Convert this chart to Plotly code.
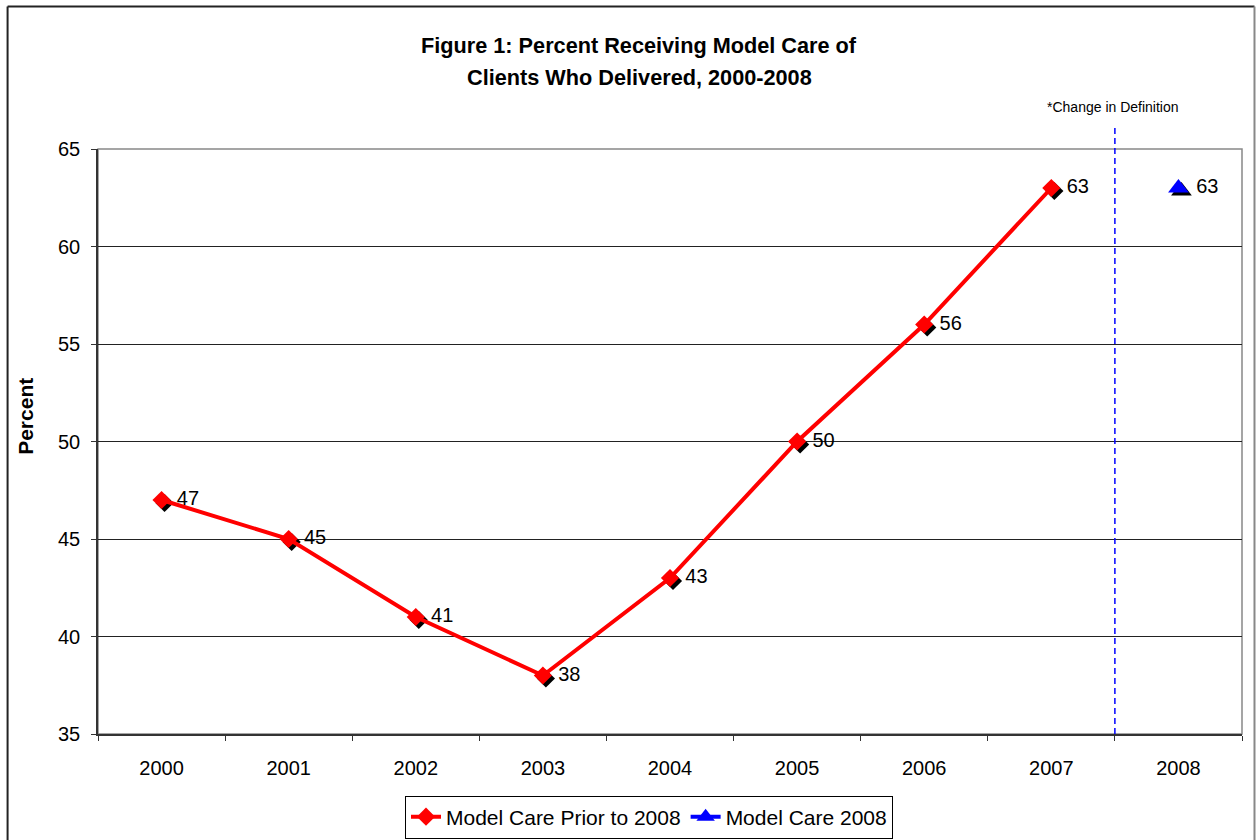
import plotly.graph_objects as go

# Chart data
years = ["2000", "2001", "2002", "2003", "2004", "2005", "2006", "2007", "2008"]
prior_years = ["2000", "2001", "2002", "2003", "2004", "2005", "2006", "2007"]
prior_values = [47, 45, 41, 38, 43, 50, 56, 63]
new_years = ["2008"]
new_values = [63]
y_ticks = [35, 40, 45, 50, 55, 60, 65]

# Figure geometry (pixels)
W, H = 1256, 840
L, R, T, B = 97.5, 1242.5, 148.5, 734.0
PW, PH = R - L, B - T
Y_MIN, Y_MAX = 35, 65


def px_x(px):
    return (px - L) / PW


def px_y(py):
    return (B - py) / PH


pos = {yr: i for i, yr in enumerate(years)}
prior_x = [pos[yr] for yr in prior_years]
new_x = [pos[yr] for yr in new_years]

# Drop shadow offset, converted from pixels to data units
SX = 3 * (len(years)) / PW
SY = -3 * (Y_MAX - Y_MIN) / PH

FONT = "Liberation Sans, Arial, sans-serif"
NB = "\u00a0"

fig = go.Figure()

# Marker shadows
fig.add_trace(go.Scatter(
    x=[v + SX for v in prior_x], y=[v + SY for v in prior_values],
    mode="markers", marker=dict(symbol="diamond", size=14, color="black"),
    showlegend=False, hoverinfo="skip"))
fig.add_trace(go.Scatter(
    x=[v + SX for v in new_x], y=[v + SY for v in new_values],
    mode="markers", marker=dict(symbol="triangle-up", size=18, color="black"),
    showlegend=False, hoverinfo="skip"))

# Main series
fig.add_trace(go.Scatter(
    x=prior_x, y=prior_values, name="Model Care Prior to 2008",
    mode="lines+markers+text",
    line=dict(color="#FF0000", width=4),
    marker=dict(symbol="diamond", size=14, color="#FF0000"),
    text=[NB + str(v) for v in prior_values], textposition="middle right",
    textfont=dict(family=FONT, size=20, color="black")))
fig.add_trace(go.Scatter(
    x=new_x, y=new_values, name="Model Care 2008",
    mode="lines+markers+text",
    line=dict(color="#0000FF", width=4),
    marker=dict(symbol="triangle-up", size=18, color="#0000FF"),
    text=[NB + str(v) for v in new_values], textposition="middle right",
    textfont=dict(family=FONT, size=20, color="black")))

shapes = [
    # plot area frame
    dict(type="rect", xref="paper", yref="paper", x0=0, x1=1, y0=0, y1=1,
         line=dict(color="#888888", width=1.5), layer="below"),
    # definition change marker
    dict(type="line", xref="x", yref="paper", x0=7.5, x1=7.5, y0=0, y1=px_y(126),
         line=dict(color="#0000FF", width=1.5, dash="6px,4px")),
    # outer chart border
    dict(type="line", xref="paper", yref="paper", x0=px_x(7), x1=px_x(7),
         y0=px_y(H + 5), y1=px_y(6), line=dict(color="#222222", width=2)),
    dict(type="line", xref="paper", yref="paper", x0=px_x(7), x1=px_x(1255),
         y0=px_y(6), y1=px_y(6), line=dict(color="#222222", width=2)),
    dict(type="line", xref="paper", yref="paper", x0=px_x(1255), x1=px_x(1255),
         y0=px_y(6), y1=px_y(H + 5), line=dict(color="#888888", width=2)),
]

annotations = [
    dict(text="<b>Figure 1: Percent Receiving Model Care of</b>", x=px_x(639), y=px_y(45),
         xref="paper", yref="paper", showarrow=False, xanchor="center", yanchor="middle",
         font=dict(family=FONT, size=21.7, color="black")),
    dict(text="<b>Clients Who Delivered, 2000-2008</b>", x=px_x(639), y=px_y(77),
         xref="paper", yref="paper", showarrow=False, xanchor="center", yanchor="middle",
         font=dict(family=FONT, size=21.7, color="black")),
    dict(text="<b>Percent</b>", x=px_x(25), y=px_y(416), textangle=-90,
         xref="paper", yref="paper", showarrow=False, xanchor="center", yanchor="middle",
         font=dict(family=FONT, size=21, color="black")),
    dict(text="*Change in Definition", x=px_x(1113), y=px_y(106),
         xref="paper", yref="paper", showarrow=False, xanchor="center", yanchor="middle",
         font=dict(family=FONT, size=14, color="black")),
]

fig.update_layout(
    width=W, height=H,
    margin=dict(l=L, r=W - R, t=T, b=H - B, pad=0),
    paper_bgcolor="white", plot_bgcolor="white",
    font=dict(family=FONT, size=20, color="black"),
    shapes=shapes, annotations=annotations,
    legend=dict(orientation="h", xref="container", yref="container",
                x=649 / W, y=1 - 817 / H, xanchor="center", yanchor="middle",
                bordercolor="black", borderwidth=1, bgcolor="white",
                font=dict(family=FONT, size=21, color="black"),
                itemwidth=30, tracegroupgap=0),
    xaxis=dict(
        range=[-0.5, len(years) - 0.5], tickmode="array",
        tickvals=list(range(len(years))), ticktext=years,
        ticks="", ticklabelstandoff=15, showgrid=False, zeroline=False,
        showline=True, linecolor="#333333", linewidth=1.5, automargin=False,
        minor=dict(tickmode="linear", tick0=0.5, dtick=1, ticks="outside",
                   ticklen=5, tickcolor="#333333", showgrid=False),
        tickfont=dict(family=FONT, size=20, color="black"), fixedrange=True),
    yaxis=dict(
        range=[Y_MIN, Y_MAX], tickmode="array", tickvals=y_ticks,
        ticks="outside", ticklen=5, tickcolor="#333333", ticklabelstandoff=7,
        showgrid=True, gridcolor="#222222", gridwidth=1, zeroline=False,
        showline=True, linecolor="#333333", linewidth=1.5, automargin=False,
        tickfont=dict(family=FONT, size=20, color="black"), fixedrange=True),
)

fig.write_html("out.html")
